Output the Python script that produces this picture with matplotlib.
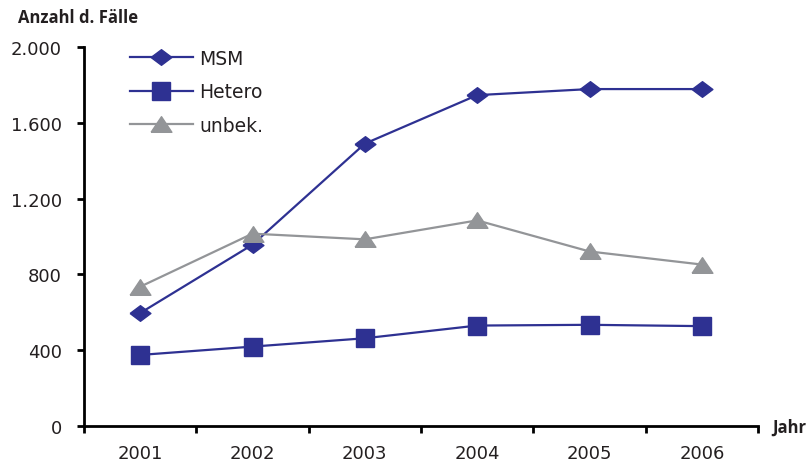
import matplotlib
matplotlib.use("Agg")
import matplotlib.pyplot as plt
from matplotlib.ticker import FuncFormatter, FixedLocator
import numpy as np

plt.rcParams['font.family'] = ['DejaVu Sans']

years = ['2001', '2002', '2003', '2004', '2005', '2006']
msm = [596, 957, 1490, 1746, 1778, 1778]
hetero = [375, 419, 463, 530, 534, 527]
unbek = [735, 1015, 985, 1085, 921, 852]

navy = '#2e3192'
grey = '#939598'
txt = '#231f20'

# flat diamond and flat triangle markers
diamond = [(-1, 0), (0, 0.75), (1, 0), (0, -0.75), (-1, 0)]
triangle = [(-1, -0.75), (1, -0.75), (0, 0.75), (-1, -0.75)]

fig = plt.figure(figsize=(8.09, 4.64), dpi=100)
ax = fig.add_axes([84 / 809, 1 - 427 / 464, (758 - 84) / 809, (427 - 48) / 464])

x = np.arange(len(years))
ax.plot(x, msm, color=navy, lw=1.6, marker=diamond, ms=15, mec=navy, mfc=navy, label='MSM')
ax.plot(x, hetero, color=navy, lw=1.6, marker='s', ms=13.5, mec=navy, mfc=navy, label='Hetero')
ax.plot(x, unbek, color=grey, lw=1.6, marker=triangle, ms=15, mec=grey, mfc=grey, label='unbek.')

ax.set_xlim(-0.5, len(years) - 0.5)
ax.set_ylim(0, 2000)
ax.set_yticks(np.arange(0, 2001, 400))
ax.yaxis.set_major_formatter(FuncFormatter(lambda v, p: f'{int(v):,}'.replace(',', '.')))

# tick marks between the years, labels centred under each year
ax.xaxis.set_major_locator(FixedLocator(np.arange(-0.5, len(years), 1.0)))
ax.xaxis.set_minor_locator(FixedLocator(x))
ax.set_xticklabels([], minor=False)
ax.set_xticklabels(years, minor=True)
ax.tick_params(axis='x', which='major', length=5, width=2, color='black')
ax.tick_params(axis='x', which='minor', length=0, pad=13, labelsize=13, labelcolor=txt)
ax.tick_params(axis='y', length=5, width=2, color='black', pad=11, labelsize=13, labelcolor=txt)

for s in ['top', 'right']:
    ax.spines[s].set_visible(False)
for s in ['left', 'bottom']:
    ax.spines[s].set_linewidth(2)

fig.text(18 / 809, 1 - 18 / 464, 'Anzahl d. Fälle', fontsize=12, fontweight='bold',
         family='Open Sans', color=txt, va='center', ha='left')
fig.text(772 / 809, 1 - 428 / 464, 'Jahr', fontsize=12, fontweight='bold',
         family='Open Sans', color=txt, va='center', ha='left')

ax.legend(loc='upper left', bbox_to_anchor=(0.043, 1.04), frameon=False, fontsize=13.5,
          handlelength=3.35, handletextpad=0.37, labelspacing=0.77, labelcolor=txt)

fig.savefig('out.png', dpi=100)
